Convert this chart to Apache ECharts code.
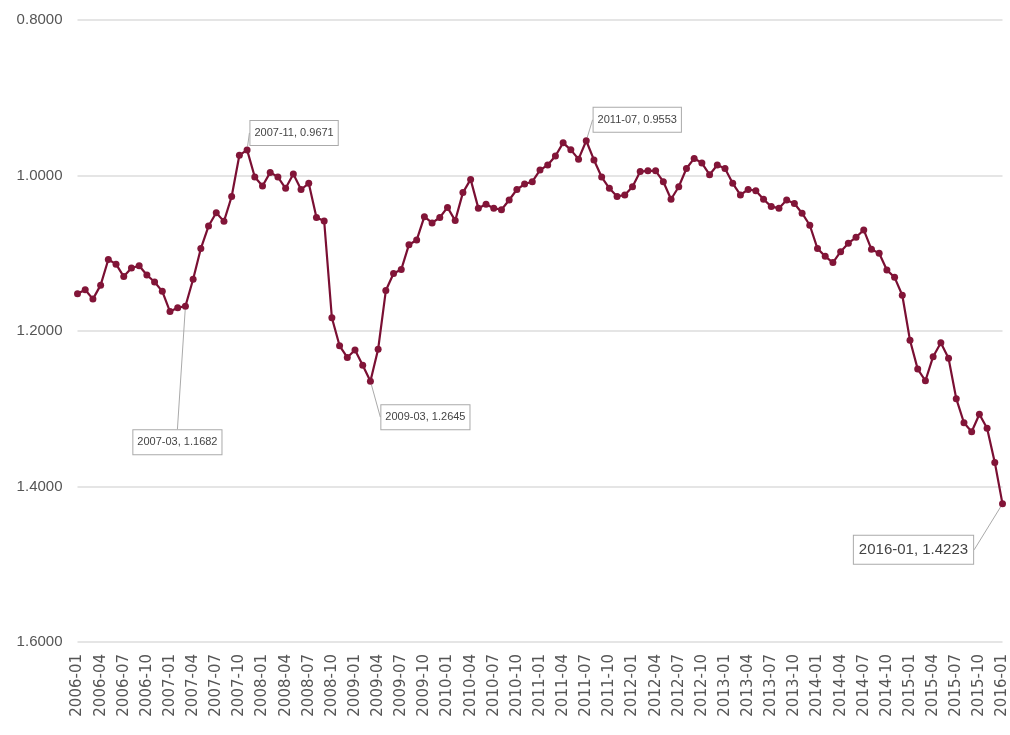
<!DOCTYPE html>
<html>
<head>
<meta charset="utf-8">
<script src="https://cdn.jsdelivr.net/npm/echarts@6/dist/echarts.min.js"></script>
<style>
html,body{margin:0;padding:0;background:#fff;}
#chart{width:1010px;height:735px;}
</style>
</head>
<body>
<div id="chart"></div>
<script>
// Monthly categories 2006-01 .. 2016-01
const startYear = 2006, endYear = 2016;
const categories = [];
for (let y = startYear; y <= endYear; y++) {
  for (let m = 1; m <= 12; m++) {
    if (y === endYear && m > 1) break;
    categories.push(y + '-' + (m < 10 ? '0' + m : m));
  }
}

const values = [
  1.152, 1.147, 1.159, 1.141, 1.108, 1.114, 1.130, 1.119, 1.116, 1.128,
  1.137, 1.149, 1.175, 1.170, 1.1682, 1.1335, 1.094, 1.065, 1.048, 1.059,
  1.027, 0.974, 0.9671, 1.002, 1.0135, 0.996, 1.002, 1.0165, 0.998, 1.018,
  1.010, 1.054, 1.0585, 1.183, 1.219, 1.234, 1.2245, 1.244, 1.2645, 1.2235,
  1.148, 1.126, 1.121, 1.089, 1.083, 1.053, 1.061, 1.054, 1.041, 1.058,
  1.022, 1.005, 1.042, 1.037, 1.042, 1.044, 1.0315, 1.018, 1.011, 1.008,
  0.993, 0.9865, 0.975, 0.958, 0.967, 0.979, 0.9553, 0.980, 1.002, 1.0165,
  1.027, 1.025, 1.0145, 0.995, 0.994, 0.994, 1.008, 1.0305, 1.0145, 0.991,
  0.978, 0.984, 0.999, 0.9865, 0.991, 1.010, 1.025, 1.018, 1.0195, 1.0305,
  1.040, 1.042, 1.0315, 1.036, 1.0485, 1.064, 1.094, 1.104, 1.112, 1.098,
  1.087, 1.0795, 1.070, 1.095, 1.100, 1.1215, 1.131, 1.154, 1.212, 1.249,
  1.264, 1.233, 1.215, 1.235, 1.287, 1.318, 1.3295, 1.307, 1.325, 1.369,
  1.4223
];

// annotated points (category names)
const annotated = ['2007-03', '2007-11', '2009-03', '2011-07', '2016-01'];

const yTicks = { min: 0.8, max: 1.6, step: 0.2 };

// label placement offsets (style only), keyed by category
const labelOffsets = {
  '2007-03': [-8, 136],
  '2007-11': [47, -17],
  '2009-03': [55, 36],
  '2011-07': [51, -21],
  '2016-01': [-89, 46]
};
const labelFontSizes = { '2016-01': 15 };

const seriesData = values.map((v, i) => {
  const cat = categories[i];
  if (annotated.indexOf(cat) >= 0) {
    const lbl = { show: true };
    if (labelFontSizes[cat]) { lbl.fontSize = labelFontSizes[cat]; lbl.padding = [7, 5, 6, 5]; }
    return { value: v, label: lbl };
  }
  return v;
});

const chart = echarts.init(document.getElementById('chart'));
const lineColor = '#7a0f33';
chart.setOption({
  animation: false,
  backgroundColor: '#ffffff',
  grid: { left: 77.5, right: 3.5, top: 20, bottom: 93, containLabel: false },
  xAxis: {
    type: 'category',
    data: categories,
    boundaryGap: false,
    axisLine: { show: false },
    axisTick: { show: false },
    axisLabel: {
      interval: 2,
      rotate: 90,
      margin: 12,
      color: '#555',
      fontFamily: 'DejaVu Sans',
      fontSize: 15
    },
    splitLine: { show: false }
  },
  yAxis: {
    type: 'value',
    inverse: true,
    min: yTicks.min,
    max: yTicks.max,
    interval: yTicks.step,
    axisLine: { show: false },
    axisTick: { show: false },
    axisLabel: {
      margin: 15,
      color: '#555',
      fontFamily: 'Liberation Sans, Arial',
      fontSize: 15,
      formatter: v => v.toFixed(4)
    },
    splitLine: { lineStyle: { color: '#dcdcdc', width: 1.5 } }
  },
  series: [{
    type: 'line',
    data: seriesData,
    showAllSymbol: true,
    symbol: 'circle',
    symbolSize: 7,
    itemStyle: { color: '#821538' },
    lineStyle: { color: lineColor, width: 2.2 },
    label: {
      show: false,
      position: 'inside',
      formatter: p => p.name + ', ' + Number(p.value).toFixed(4),
      color: '#444',
      fontFamily: 'Liberation Sans, Arial',
      fontSize: 11,
      backgroundColor: '#fff',
      borderColor: '#aaa',
      borderWidth: 1,
      padding: [7, 4, 6, 4]
    },
    labelLine: { show: true, lineStyle: { color: '#aaa', width: 1 } },
    labelLayout: function (params) {
      const cat = categories[params.dataIndex];
      const off = labelOffsets[cat];
      if (!off) return {};
      return { dx: off[0], dy: off[1] };
    },
    emphasis: { disabled: true }
  }]
});
</script>
</body>
</html>
